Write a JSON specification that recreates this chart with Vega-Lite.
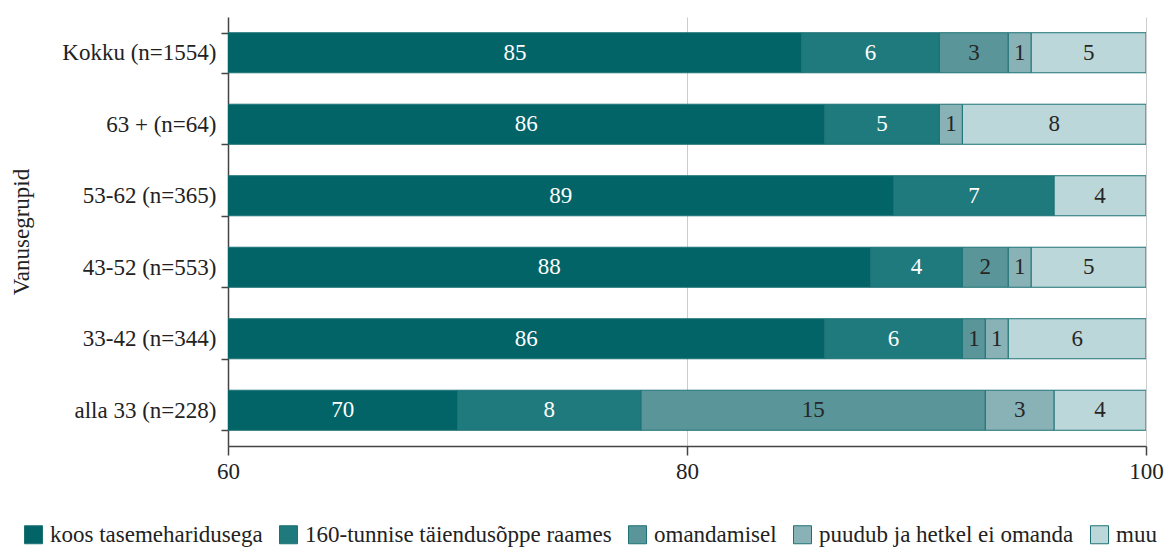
{
  "$schema": "https://vega.github.io/schema/vega-lite/v6.json",
  "width": 918,
  "height": 429,
  "autosize": {"type": "none"},
  "padding": {"left": 228, "top": 17, "right": 24, "bottom": 103},
  "background": "white",
  "config": {
    "font": "Liberation Serif",
    "view": {"stroke": null},
    "axis": {
      "labelFont": "Liberation Serif",
      "titleFont": "Liberation Serif",
      "labelFontSize": 23,
      "titleFontSize": 23,
      "labelColor": "#222222",
      "titleColor": "#222222",
      "titleFontWeight": "normal",
      "domainColor": "#444444",
      "tickColor": "#444444",
      "domainWidth": 1.5,
      "tickWidth": 1.5
    },
    "legend": {
      "labelFont": "Liberation Serif",
      "labelFontSize": 23,
      "labelColor": "#222222",
      "labelLimit": 0
    }
  },
  "data": {
    "values": [
      {"group": "Kokku (n=1554)", "cat": "koos tasemeharidusega", "value": 85},
      {"group": "Kokku (n=1554)", "cat": "160-tunnise täiendusõppe raames", "value": 6},
      {"group": "Kokku (n=1554)", "cat": "omandamisel", "value": 3},
      {"group": "Kokku (n=1554)", "cat": "puudub ja hetkel ei omanda", "value": 1},
      {"group": "Kokku (n=1554)", "cat": "muu", "value": 5},
      {"group": "63 + (n=64)", "cat": "koos tasemeharidusega", "value": 86},
      {"group": "63 + (n=64)", "cat": "160-tunnise täiendusõppe raames", "value": 5},
      {"group": "63 + (n=64)", "cat": "puudub ja hetkel ei omanda", "value": 1},
      {"group": "63 + (n=64)", "cat": "muu", "value": 8},
      {"group": "53-62 (n=365)", "cat": "koos tasemeharidusega", "value": 89},
      {"group": "53-62 (n=365)", "cat": "160-tunnise täiendusõppe raames", "value": 7},
      {"group": "53-62 (n=365)", "cat": "muu", "value": 4},
      {"group": "43-52 (n=553)", "cat": "koos tasemeharidusega", "value": 88},
      {"group": "43-52 (n=553)", "cat": "160-tunnise täiendusõppe raames", "value": 4},
      {"group": "43-52 (n=553)", "cat": "omandamisel", "value": 2},
      {"group": "43-52 (n=553)", "cat": "puudub ja hetkel ei omanda", "value": 1},
      {"group": "43-52 (n=553)", "cat": "muu", "value": 5},
      {"group": "33-42 (n=344)", "cat": "koos tasemeharidusega", "value": 86},
      {"group": "33-42 (n=344)", "cat": "160-tunnise täiendusõppe raames", "value": 6},
      {"group": "33-42 (n=344)", "cat": "omandamisel", "value": 1},
      {"group": "33-42 (n=344)", "cat": "puudub ja hetkel ei omanda", "value": 1},
      {"group": "33-42 (n=344)", "cat": "muu", "value": 6},
      {"group": "alla 33 (n=228)", "cat": "koos tasemeharidusega", "value": 70},
      {"group": "alla 33 (n=228)", "cat": "160-tunnise täiendusõppe raames", "value": 8},
      {"group": "alla 33 (n=228)", "cat": "omandamisel", "value": 15},
      {"group": "alla 33 (n=228)", "cat": "puudub ja hetkel ei omanda", "value": 3},
      {"group": "alla 33 (n=228)", "cat": "muu", "value": 4}
    ]
  },
  "transform": [
    {"calculate": "indexof(['koos tasemeharidusega','160-tunnise täiendusõppe raames','omandamisel','puudub ja hetkel ei omanda','muu'], datum.cat)", "as": "k"},
    {"stack": "value", "groupby": ["group"], "sort": [{"field": "k", "order": "ascending"}], "as": ["x0", "x1"]},
    {"calculate": "(max(datum.x0, 60) + datum.x1) / 2", "as": "mid"}
  ],
  "encoding": {
    "y": {
      "field": "group",
      "type": "nominal",
      "sort": ["Kokku (n=1554)", "63 + (n=64)", "53-62 (n=365)", "43-52 (n=553)", "33-42 (n=344)", "alla 33 (n=228)"],
      "scale": {"paddingInner": 0.44, "paddingOuter": 0.22},
      "axis": {
        "title": "Vanusegrupid",
        "tickBand": "extent",
        "tickSize": 7,
        "labelPadding": 5,
        "titlePadding": 28
      }
    }
  },
  "layer": [
    {
      "mark": {"type": "bar", "clip": true, "stroke": "#1d7276", "strokeWidth": 1},
      "encoding": {
        "x": {
          "field": "x0",
          "type": "quantitative",
          "scale": {"domain": [60, 100], "nice": false, "zero": false},
          "axis": {
            "title": null,
            "values": [60, 80, 100],
            "grid": true,
            "gridColor": "#cccccc",
            "gridWidth": 1,
            "tickSize": 9,
            "labelPadding": 5,
            "labelFlush": false
          }
        },
        "x2": {"field": "x1"},
        "color": {
          "field": "cat",
          "type": "nominal",
          "scale": {
            "domain": ["koos tasemeharidusega", "160-tunnise täiendusõppe raames", "omandamisel", "puudub ja hetkel ei omanda", "muu"],
            "range": ["#036468", "#1f7a7d", "#5a9599", "#88b2b6", "#bcd7da"]
          },
          "legend": {
            "title": null,
            "orient": "none",
            "direction": "horizontal",
            "legendX": -206,
            "legendY": 506,
            "symbolType": "square",
            "symbolSize": 324,
            "symbolStrokeColor": "#1d7276",
            "symbolStrokeWidth": 1,
            "symbolOpacity": 1,
            "labelOffset": 5,
            "columnPadding": 14
          }
        }
      }
    },
    {
      "transform": [{"filter": "datum.value > 0"}],
      "mark": {"type": "text", "fontSize": 23, "font": "Liberation Serif", "baseline": "middle", "align": "center"},
      "encoding": {
        "x": {"field": "mid", "type": "quantitative"},
        "text": {"field": "value", "type": "quantitative"},
        "color": {"condition": {"test": "datum.k < 2", "value": "#ffffff"}, "value": "#262626"}
      }
    }
  ]
}
